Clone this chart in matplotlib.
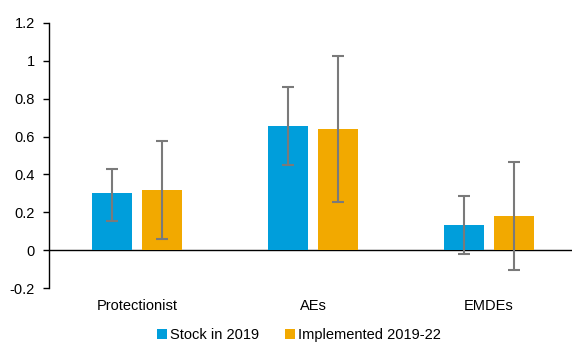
import matplotlib
matplotlib.use("Agg")
import matplotlib.pyplot as plt
import numpy as np

plt.rcParams['font.family'] = ['Liberation Sans', 'DejaVu Sans']

categories = ["Protectionist", "AEs", "EMDEs"]
series_names = ["Stock in 2019", "Implemented 2019-22"]
stock = [0.30, 0.656, 0.131]
stock_lo = [0.155, 0.451, -0.02]
stock_hi = [0.43, 0.862, 0.286]
implemented = [0.32, 0.638, 0.18]
impl_lo = [0.058, 0.256, -0.106]
impl_hi = [0.577, 1.024, 0.467]
yticks = [-0.2, 0, 0.2, 0.4, 0.6, 0.8, 1, 1.2]

colors = ["#009EDB", "#F2A900"]
err_color = "#7A7A7A"

fig = plt.figure(figsize=(5.72, 3.43), dpi=100)
ax = fig.add_axes([49 / 572, 1 - 288 / 343, 528 / 572, (288 - 23) / 343])

x = np.arange(len(categories))
w = 0.227
off = 0.142
for vals, lo, hi, xs, c, name in [
    (stock, stock_lo, stock_hi, x - off, colors[0], series_names[0]),
    (implemented, impl_lo, impl_hi, x + off, colors[1], series_names[1]),
]:
    vals = np.array(vals)
    yerr = np.array([vals - np.array(lo), np.array(hi) - vals])
    ax.bar(xs, vals, width=w, color=c, label=name, zorder=2)
    ax.errorbar(xs, vals, yerr=yerr, fmt="none", ecolor=err_color,
                elinewidth=1.5, capsize=4, capthick=1.5, zorder=3)

ax.axhline(0, color="black", linewidth=1.0, zorder=1)
ax.set_xlim(-0.5, 2.5)
ax.set_ylim(-0.2, 1.2)
ax.set_yticks(yticks)
ax.set_yticklabels(["-0.2", "0", "0.2", "0.4", "0.6", "0.8", "1", "1.2"])
ax.tick_params(axis="y", direction="out", length=4, width=1, labelsize=10.5, pad=6)
ax.set_xticks(x)
ax.set_xticklabels(categories, fontsize=10.5)
ax.tick_params(axis="x", length=0, pad=8)
for s in ["top", "right", "bottom"]:
    ax.spines[s].set_visible(False)
ax.spines["left"].set_linewidth(1.0)

fig.legend(loc="center", bbox_to_anchor=(299 / 572, 1 - 335 / 343), ncol=2,
           frameon=False, fontsize=10.5, handlelength=0.65, handleheight=0.65,
           handletextpad=0.2, columnspacing=1.8, borderaxespad=0)

fig.savefig("out.png", dpi=100)
